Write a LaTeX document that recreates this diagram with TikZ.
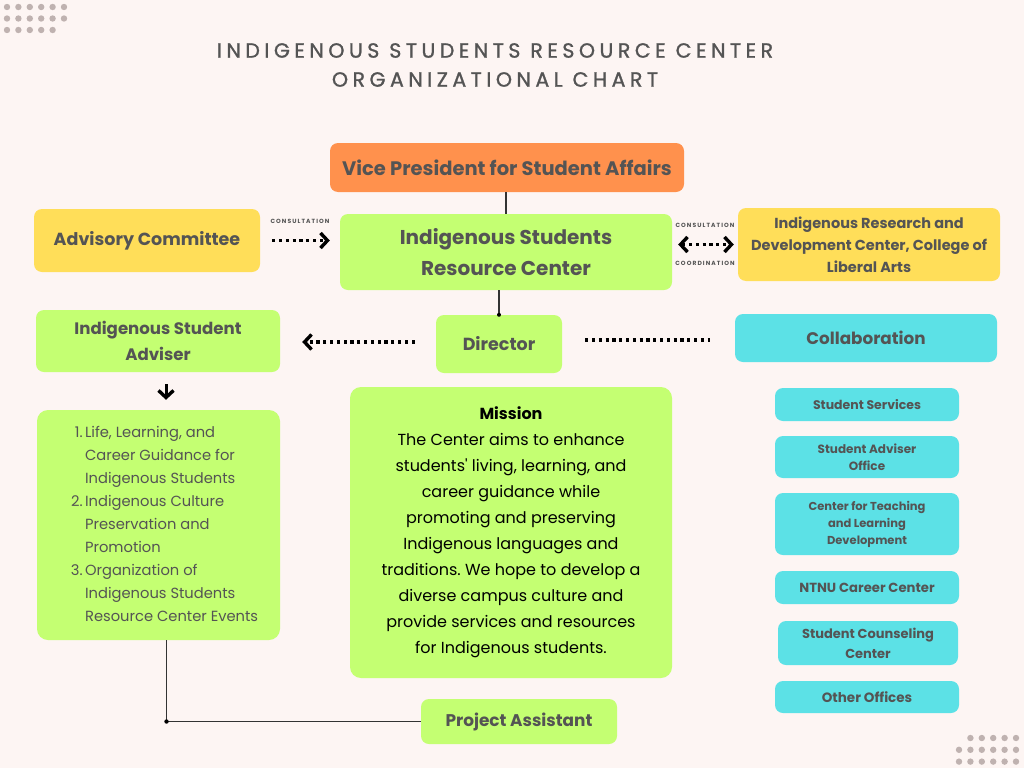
\documentclass[tikz,border=0pt]{standalone}
\usepackage{fontspec}
\setmainfont{Poppins}
\newfontfamily\titlefont{Poppins}[LetterSpace=22,FakeBold=1.2]
\newfontfamily\rotfont{Poppins}[LetterSpace=18]
\usetikzlibrary{arrows.meta,positioning}

\begin{document}
\begin{tikzpicture}[x=1pt,y=-1pt,
        caja/.style={rounded corners=8pt,align=center,inner sep=0pt,text=gristxt},
        verde/.style={caja,fill=verdec},
        amarillo/.style={caja,fill=amarilloc},
        naranja/.style={caja,fill=naranjac},
        cian/.style={caja,fill=cianc},
        letra/.style 2 args={font=\bfseries\fontsize{#1}{#2}\selectfont},
        punteada/.style={line width=3.2pt,dash pattern=on 3.2pt off 3.6pt,black},
        punta/.style={-{Straight Barb[line width=3.4pt,length=7pt,width=15pt]}},
        puntas/.style={{Straight Barb[line width=3.4pt,length=7pt,width=15pt]}-{Straight Barb[line width=3.4pt,length=7pt,width=15pt]}},
        linea/.style={line width=1.1pt,black!80},
        rotulo/.style={font=\rotfont\bfseries\fontsize{6}{7}\selectfont,text=gristxt},
        puntos/.style={fill=grispunto}]
        %colores
        \definecolor{fondo}{HTML}{FDF5F3}
        \definecolor{verdec}{HTML}{C4FF72}
        \definecolor{amarilloc}{HTML}{FFDE59}
        \definecolor{naranjac}{HTML}{FF914D}
        \definecolor{cianc}{HTML}{5CE1E6}
        \definecolor{gristxt}{HTML}{545454}
        \definecolor{grispunto}{HTML}{BFB2B0}

        % Fondo
        \fill[fondo] (0,0) rectangle (1024,768);
        \foreach \f/\n in {0/5,1/5,2/4}
            \foreach \c in {0,...,\n}
                \fill[puntos] (7+11.4*\c,7+11.5*\f) circle (3.2pt);
        \foreach \f/\n in {0/4,1/5,2/5}
            \foreach \c in {0,...,\n}
                \fill[puntos] (1016-11.4*\c,738+11.8*\f) circle (3.2pt);

        % Titulo
        \node[align=center,text=gristxt,font=\titlefont\fontsize{20.5}{29}\selectfont] (titulo) at (495,65)
            {INDIGENOUS STUDENTS RESOURCE CENTER\\ORGANIZATIONAL CHART};

        % Cajas superiores
        \node[naranja,minimum width=354pt,minimum height=49pt,letra={19.5}{22}] (vp) at (507,167.5) {Vice President for Student Affairs};
        \node[verde,minimum width=332pt,minimum height=76pt,letra={20}{31}] (isrc) at (506,252) {Indigenous Students\\Resource Center};
        \node[amarillo,minimum width=226pt,minimum height=63pt,letra={17.5}{20}] (adv) at (147,240.5) {Advisory Committee};
        \node[amarillo,minimum width=262pt,minimum height=73pt,letra={14.5}{22}] (irdc) at (869,244.5)
            {Indigenous Research and\\Development Center, College of\\Liberal Arts};

        % Segunda fila
        \node[verde,minimum width=126pt,minimum height=58pt,letra={17.5}{20}] (dir) at (499,344) {Director};
        \node[verde,minimum width=244pt,minimum height=62pt,letra={16.6}{26}] (adviser) at (158,341) {Indigenous Student\\Adviser};
        \node[cian,minimum width=262pt,minimum height=48pt,letra={16.8}{20}] (colab) at (866,338) {Collaboration};

        % Funciones
        \node[verde,rounded corners=11pt,minimum width=243pt,minimum height=230pt,
            font=\fontsize{14.7}{23}\selectfont] (tareas) at (158.5,525)
            {\hspace*{12pt}\begin{tabular}{@{}r@{\,}l@{}}
              1.&Life, Learning, and\\
                &Career Guidance for\\
                &Indigenous Students\\
              2.&Indigenous Culture\\
                &Preservation and\\
                &Promotion\\
              3.&Organization of\\
                &Indigenous Students\\
                &Resource Center Events
            \end{tabular}};

        % Mision
        \node[verde,rounded corners=11pt,minimum width=322pt,minimum height=291pt,text=black,
            font=\frenchspacing\fontsize{16}{26}\selectfont] (mision) at (511,532.5)
            {\textbf{Mission}\\The Center aims to enhance\\students\textquotesingle{} living, learning, and\\career guidance while\\
             promoting and preserving\\Indigenous languages and\\traditions. We hope to develop a\\
             diverse campus culture and\\provide services and resources\\for Indigenous students.};

        % Oficinas
        \node[cian,minimum width=184pt,minimum height=33pt,letra={12.5}{17}] (o1) at (867,404.5) {Student Services};
        \node[cian,minimum width=184pt,minimum height=42pt,letra={12}{17}] (o2) at (867,457) {Student Adviser\\Office};
        \node[cian,minimum width=184pt,minimum height=62pt,letra={11.5}{17}] (o3) at (867,524) {Center for Teaching\\and Learning\\Development};
        \node[cian,minimum width=184pt,minimum height=33pt,letra={13.2}{17}] (o4) at (867,587.5) {NTNU Career Center};
        \node[cian,minimum width=180pt,minimum height=44pt,letra={13}{20}] (o5) at (868,643) {Student Counseling\\Center};
        \node[cian,minimum width=184pt,minimum height=32pt,letra={13.5}{17}] (o6) at (867,697) {Other Offices};

        \node[verde,minimum width=196pt,minimum height=45pt,letra={16.9}{20}] (asist) at (519,721.5) {Project Assistant};

        % Conexiones
        \draw[linea] (vp.south -| isrc.north) -- (isrc.north);
        \draw[linea] (dir.north |- isrc.south) -- (dir.north);
        \fill (dir.north) circle (2pt);
        \draw[punteada,punta,shorten <=12pt,shorten >=10pt] (adv.east) -- (adv.east -| isrc.west)
            node[rotulo,midway,above=12pt] (cons1) {CONSULTATION};
        \draw[punteada,puntas,shorten <=6pt,shorten >=4pt]
            (isrc.east |- irdc.west) -- (irdc.west)
            node[rotulo,midway,above=12pt] (cons2) {CONSULTATION}
            node[rotulo,midway,below=12pt] (coord) {COORDINATION};
        \draw[punteada,punta,shorten <=21pt,shorten >=22pt] ([yshift=2pt]dir.west) -- ([yshift=2pt]dir.west -| adviser.east);
        \draw[punteada,shorten <=23pt,shorten >=25pt] ([yshift=4pt]dir.east) -- ([yshift=4pt]dir.east -| colab.west);
        \draw[line width=3pt,punta,shorten <=12pt,shorten >=10pt] ([xshift=8pt]adviser.south) -- ([xshift=8pt]adviser.south |- tareas.north);
        \coordinate (esq) at ([xshift=8pt]tareas.south |- asist.west);
        \draw[linea] ([xshift=8pt]tareas.south) -- (esq) -- (asist.west);
        \fill (esq) circle (2.2pt);
\end{tikzpicture}
\end{document}
